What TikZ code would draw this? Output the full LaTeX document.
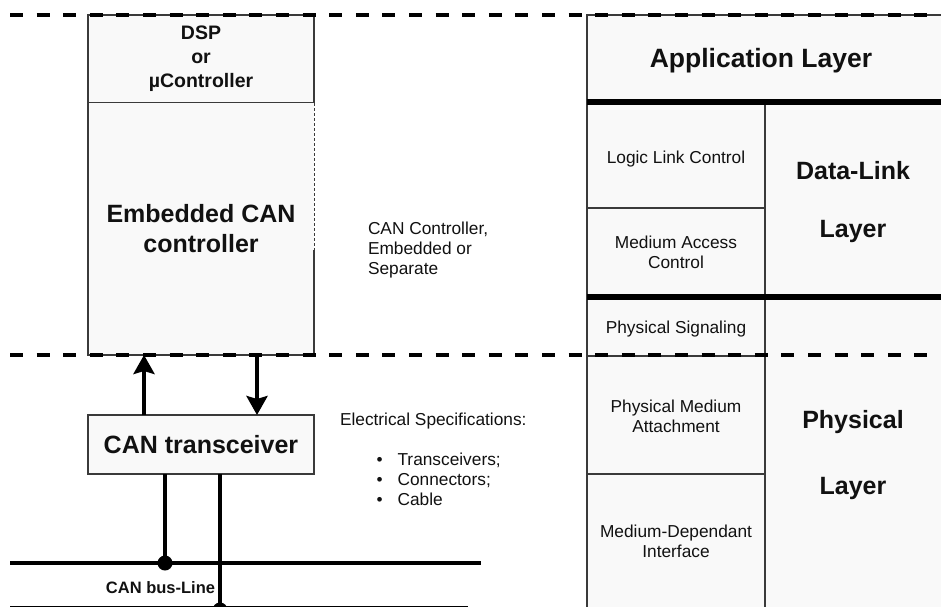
\documentclass[tikz,border=0pt]{standalone}
\usepackage{fontspec}
\setmainfont{Liberation Sans}
\usetikzlibrary{arrows.meta}
\definecolor{cellfill}{HTML}{F9F9F9}
\definecolor{edge}{HTML}{3A3A3A}
\definecolor{ink}{HTML}{111111}

\begin{document}
\begin{tikzpicture}[x=1pt,y=-1pt,
  edgeline/.style={draw=edge,line width=1.3pt},
  sepline/.style={draw=black,line width=6pt},
  layerdash/.style={draw=black,line width=4pt,dash pattern=on 13pt off 13.6pt},
  wire/.style={draw=black,line width=4pt},
  flow/.style={draw=black,line width=4pt,-{Stealth[length=19pt,width=21pt,inset=3pt]}},
  bigbold/.style={font=\fontsize{25}{30}\selectfont\bfseries,text=ink},
  titlebold/.style={font=\fontsize{26.5}{30}\selectfont\bfseries,text=ink},
  midbold/.style={font=\fontsize{19.5}{24}\selectfont\bfseries,text=ink},
  smallbold/.style={font=\fontsize{16.5}{20}\selectfont\bfseries,text=ink},
  smalltxt/.style={font=\fontsize{17.3}{20}\selectfont,text=ink},
  lbl/.style={inner sep=0pt,outer sep=0pt,align=center},
  box/.style={fill=cellfill,inner sep=0pt,outer sep=0pt,minimum width=226pt,align=center},
]
\useasboundingbox (0,0) rectangle (941,606);
\clip (0,0) rectangle (941,606);

% ---------- OSI layer table on the right ----------
\fill[cellfill] (587,15) rectangle (945,612);
\draw[edgeline] (945,15) -- (587,15) -- (587,612);
\draw[edgeline] (765,102) -- (765,612);
\draw[edgeline] (587,208) -- (765,208);
\draw[edgeline] (587,356) -- (765,356);
\draw[edgeline] (587,474) -- (765,474);
\draw[sepline] (587,102) -- (945,102);
\draw[sepline] (587,297) -- (945,297);

\node[lbl,titlebold,anchor=base] (app) at (761,67) {Application Layer};
\node[lbl,smalltxt,anchor=base] (llc) at (676,163) {Logic Link Control};
\node[lbl,smalltxt] (mac) at (676,252.5) {Medium Access\\Control};
\node[lbl,smalltxt,anchor=base] (phs) at (676,333) {Physical Signaling};
\node[lbl,smalltxt] (pma) at (676,416.5) {Physical Medium\\Attachment};
\node[lbl,smalltxt] (mdi) at (676,541.5) {Medium-Dependant\\Interface};
\node[lbl,bigbold,anchor=base] (dl1) at (853,179) {Data-Link};
\node[lbl,bigbold,anchor=base] (dl2) at (853,237) {Layer};
\node[lbl,bigbold,anchor=base] (ph1) at (853,428) {Physical};
\node[lbl,bigbold,anchor=base] (ph2) at (853,494) {Layer};

% ---------- controller stack on the left ----------
\node[box,draw=edge,line width=1.3pt,minimum height=88pt,midbold] (dsp) at (201,59)
  {DSP\\or\\µController};
\node[box,minimum height=252pt,bigbold] (ecan) at (201,229)
  {Embedded CAN\\controller};
\coordinate (ecut) at (314,250);
\draw[edgeline] (ecut) -- (ecan.south east) -- (ecan.south west) -- (ecan.north west);
\draw[draw=edge,line width=1pt,dash pattern=on 3pt off 2pt] (ecan.north east) -- (ecut);

\node[box,draw=edge,line width=1.3pt,minimum height=59pt,bigbold] (xcvr) at (201,444.5)
  {CAN transceiver};

% ---------- side notes ----------
\node[lbl,smalltxt,align=left,anchor=west] (ctrlnote) at (368,250.5)
  {CAN Controller,\\Embedded or\\Separate};
\node[lbl,smalltxt,anchor=base west] (elechead) at (340,425) {Electrical Specifications:};
\node[lbl,smalltxt,align=left,anchor=west] (eleclist) at (376.5,479)
  {\textbullet\hspace{15pt}Transceivers;\\\textbullet\hspace{15pt}Connectors;\\\textbullet\hspace{15pt}Cable};

% ---------- layer boundaries ----------
\coordinate (topL) at (10,15);
\coordinate (topR) at (941,15);
\coordinate (midL) at (10,355);
\coordinate (midR) at (941,355);
\draw[layerdash] (topL) -- (topR);
\draw[layerdash] (midL) -- (midR);

% ---------- controller <-> transceiver ----------
\coordinate (upx) at (144,0);
\coordinate (dnx) at (257,0);
\draw[flow] (xcvr.north -| upx) -- (ecan.south -| upx);
\draw[flow] (ecan.south -| dnx) -- (xcvr.north -| dnx);

% ---------- bus wiring ----------
\coordinate (w1) at (165,0);
\coordinate (w2) at (220,0);
\coordinate (tap1) at (165,563);
\coordinate (tap2) at (220,610);
\coordinate (busAL) at (10,563);
\coordinate (busAR) at (481,563);
\coordinate (busBL) at (10,607.8);
\coordinate (busBR) at (468,607.8);
\draw[wire] (busAL) -- (busAR);
\draw[wire] (busBL) -- (busBR);
\draw[wire] (xcvr.south -| w1) -- (tap1);
\draw[wire] (xcvr.south -| w2) -- (tap2);
\fill (tap1) circle (7.5pt);
\fill (tap2) circle (7.5pt);
\node[lbl,smallbold,anchor=base] (buslbl) at (160.5,593) {CAN bus-Line};
\end{tikzpicture}
\end{document}
